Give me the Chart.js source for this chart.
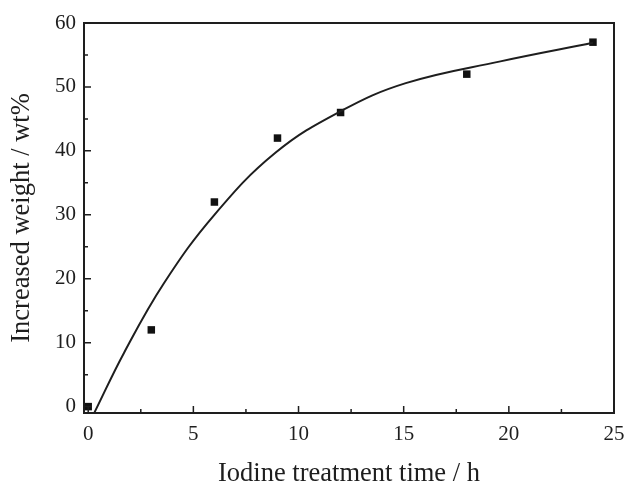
<!DOCTYPE html>
<html>
<head>
<meta charset="utf-8">
<script src="https://cdn.jsdelivr.net/npm/chart.js@4"></script>
<style>
  html, body { margin: 0; padding: 0; background: #fff; }
  #wrap { width: 627px; height: 483px; }
</style>
</head>
<body>
<div id="wrap"><canvas id="chart" width="627" height="483"></canvas></div>
<script>
// measured points
const timeH = [0, 3, 6, 9, 12, 18, 24];
const weightPct = [0, 12, 32, 42, 46, 52, 57];

// fitted curve
const fitX = [0.3, 1.7, 3.6, 6.0, 8.9, 12.0, 15.1, 19.6, 24.0];
const fitY = [-0.9, 8.4, 19.3, 30.0, 39.7, 46.2, 50.6, 54.0, 56.9];

const xTicks = [0, 5, 10, 15, 20, 25];
const yTicks = [0, 10, 20, 30, 40, 50, 60];

const ink = '#1e1e1e';
const font = "'Liberation Serif', 'DejaVu Serif', serif";

// box round the plot + ticks pointing inward
const frame = {
  id: 'frame',
  afterDraw(chart) {
    const ctx = chart.ctx, a = chart.chartArea;
    const xs = chart.scales.x, ys = chart.scales.y;
    ctx.save();
    ctx.strokeStyle = ink;
    ctx.lineWidth = 2;
    ctx.strokeRect(a.left, a.top, a.right - a.left, a.bottom - a.top);
    ctx.lineWidth = 1.5;
    ctx.beginPath();
    for (let v = 0; v <= 25; v += 2.5) {
      const px = xs.getPixelForValue(v);
      const len = (v % 5 === 0) ? 7 : 4;
      ctx.moveTo(px, a.bottom);
      ctx.lineTo(px, a.bottom - len);
    }
    for (let v = 0; v <= 60; v += 5) {
      const py = ys.getPixelForValue(v);
      const len = (v % 10 === 0) ? 7 : 4;
      ctx.moveTo(a.left, py);
      ctx.lineTo(a.left + len, py);
    }
    ctx.stroke();
    ctx.restore();
  }
};

new Chart(document.getElementById('chart'), {
  type: 'scatter',
  data: {
    datasets: [
      {
        label: 'fit',
        data: fitX.map((x, i) => ({ x: x, y: fitY[i] })),
        showLine: true,
        borderColor: ink,
        borderWidth: 2,
        pointRadius: 0,
        tension: 0.4,
        fill: false
      },
      {
        label: 'measured',
        data: timeH.map((x, i) => ({ x: x, y: weightPct[i] })),
        pointStyle: 'rect',
        pointRadius: 5.3,
        backgroundColor: '#111',
        borderColor: '#111',
        borderWidth: 0
      }
    ]
  },
  options: {
    responsive: false,
    animation: false,
    layout: { padding: { left: 6, right: 2, top: 23, bottom: 0 } },
    plugins: { legend: { display: false }, tooltip: { enabled: false } },
    scales: {
      x: {
        type: 'linear',
        min: -0.2,
        max: 25,
        afterBuildTicks: s => { s.ticks = xTicks.map(v => ({ value: v })); },
        afterFit: s => { s.height = 70; s.paddingRight = 13; },
        grid: { display: false, drawTicks: false },
        border: { display: false },
        ticks: { color: ink, padding: 9, font: { family: font, size: 21 }, maxRotation: 0 },
        title: {
          display: true,
          text: 'Iodine treatment time / h',
          color: ink,
          font: { family: font, size: 26.5 },
          padding: { top: 14, bottom: -7 }
        }
      },
      y: {
        type: 'linear',
        min: -1,
        max: 60,
        afterBuildTicks: s => { s.ticks = yTicks.map(v => ({ value: v })); },
        afterFit: s => { s.width = 78; },
        grid: { display: false, drawTicks: false },
        border: { display: false },
        ticks: { color: ink, padding: 8, font: { family: font, size: 21 } },
        title: {
          display: true,
          text: 'Increased weight / wt%',
          color: ink,
          font: { family: font, size: 26.5 },
          padding: { top: 0, bottom: 6 }
        }
      }
    }
  },
  plugins: [frame]
});
</script>
</body>
</html>
